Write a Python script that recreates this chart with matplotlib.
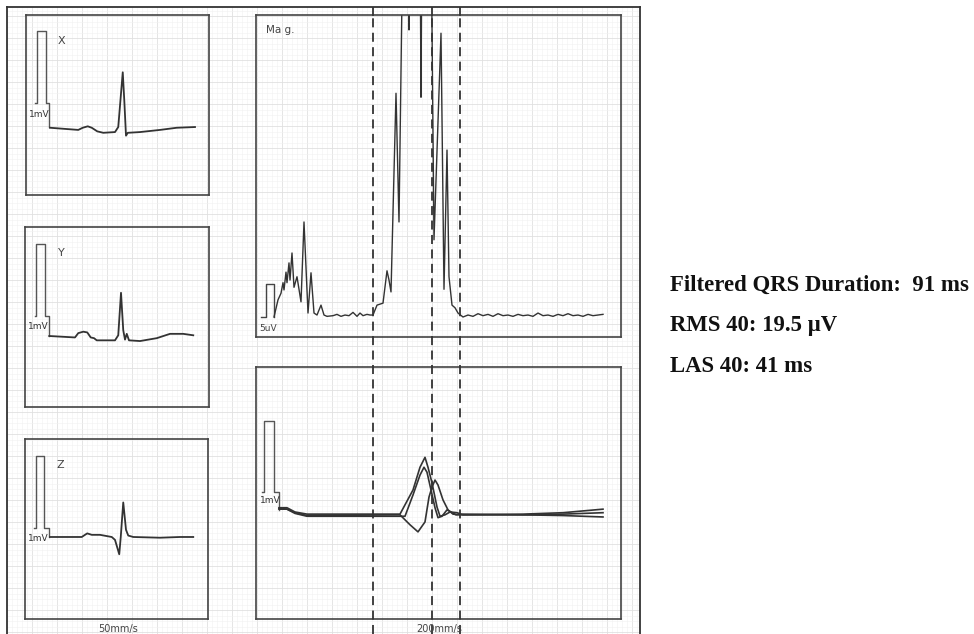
import matplotlib
matplotlib.use('Agg')
import matplotlib.pyplot as plt
import numpy as np

plt.rcParams.update({
    'font.family': ['DejaVu Sans'],
    'axes.linewidth': 1.2,
    'axes.edgecolor': '#444444',
})

W, H = 974, 634
TRACE = '#333333'

# -- Data: 50 mm/s leads (time in ms from panel left, amplitude in mV) --
x_cal_t = [36, 43, 43, 80, 80, 93, 93]
x_cal_v = [0.33, 0.33, 1.33, 1.33, 0.33, 0.33, 0.0]
x_t = [96, 209, 227, 247, 263, 285, 309, 356, 369, 387, 393, 400, 407,
       456, 536, 603, 676]
x_v = [-0.01, -0.04, -0.01, 0.01, -0.01, -0.06, -0.08, -0.07, 0.0, 0.76,
       0.38, -0.12, -0.08, -0.07, -0.04, -0.01, 0.0]

y_cal_t = [40, 44, 44, 80, 80, 96, 96]
y_cal_v = [0.28, 0.28, 1.28, 1.28, 0.28, 0.28, 0.0]
y_t = [97, 200, 213, 233, 249, 263, 276, 287, 360, 373, 384, 393, 400,
       407, 416, 460, 527, 580, 633, 673]
y_v = [0.0, -0.02, 0.04, 0.06, 0.05, -0.02, -0.03, -0.06, -0.06, 0.01,
       0.6, 0.08, -0.05, 0.03, -0.06, -0.07, -0.03, 0.03, 0.03, 0.01]

z_cal_t = [37, 43, 43, 77, 77, 97, 97]
z_cal_v = [0.12, 0.12, 1.12, 1.12, 0.12, 0.12, 0.0]
z_t = [100, 227, 240, 249, 267, 300, 347, 360, 377, 383, 393, 404, 413,
       433, 540, 620, 673]
z_v = [0.0, 0.0, 0.03, 0.05, 0.03, 0.03, 0.0, -0.04, -0.24, 0.0, 0.48,
       0.1, 0.02, 0.0, -0.01, 0.0, 0.0]

# -- Data: filtered vector magnitude, 200 mm/s (ms from QRS onset, uV) --
mag_cal_t = [-112, -107, -107, -99, -99]
mag_cal_v = [0, 0, 5, 5, 0]
mag_t = [-99, -95, -92, -90, -89, -87, -86, -84, -83, -81, -79, -76, -72,
         -69, -65, -62, -59, -56, -52, -49, -46, -40, -36, -32, -28, -24,
         -20, -16, -13, -10, -6, -3, 0, 4, 10, 14, 16, 18, 23, 26, 30, 34,
         36, 38, 47, 48, 49, 58, 61, 68, 71, 74, 76, 79, 82, 85, 90, 95,
         100, 105, 110, 115, 120, 125, 130, 135, 140, 145, 150, 155, 160,
         165, 170, 175, 180, 185, 190, 195, 200, 205, 210, 215, 220, 225, 230]
mag_v = [0, 2.6, 3.6, 5.2, 4.1, 6.8, 5.2, 8.2, 5.6, 9.7, 4.5, 6.1, 2.3,
         14.4, 0.6, 6.7, 0.6, 0.3, 1.8, 0.3, 0.1, 0.2, 0.4, 0.1, 0.3, 0.2,
         0.7, 0.1, 0.6, 0.2, 0.4, 0.3, 0.3, 1.8, 2.1, 7.0, 5.6, 3.8, 33.9,
         14.4, 60, 60, 43.5, 60, 60, 33.3, 60, 60, 11.7, 43.0, 4.2, 25.3,
         6.1, 1.8, 1.4, 0.6, 0.0, 0.3, 0.1, 0.5, 0.2, 0.4, 0.1, 0.5, 0.2,
         0.3, 0.1, 0.4, 0.2, 0.3, 0.1, 0.6, 0.2, 0.3, 0.1, 0.4, 0.2, 0.5,
         0.2, 0.3, 0.1, 0.4, 0.2, 0.3, 0.4]

# -- Data: filtered X, Y, Z leads, 200 mm/s (ms from QRS onset, mV) --
f_cal_t = [-111, -109, -109, -99, -99, -94, -94]
f_cal_v = [0.28, 0.28, 1.28, 1.28, 0.28, 0.28, 0.03]
fx_t = [-94, -86, -78, -66, 27, 40, 47, 52, 55, 59, 64, 67, 72, 77, 84,
        90, 150, 190, 230]
fx_v = [0.06, 0.06, 0.0, -0.03, -0.03, 0.31, 0.63, 0.77, 0.63, 0.41, 0.07,
        -0.06, -0.04, 0.0, -0.01, -0.04, -0.03, -0.01, 0.04]
fy_t = [-94, -86, -78, -66, 32, 40, 47, 51, 54, 58, 62, 65, 69, 74, 78,
        83, 90, 150, 190, 230]
fy_v = [0.05, 0.04, -0.02, -0.06, -0.06, 0.24, 0.52, 0.63, 0.56, 0.31,
        0.06, -0.08, -0.06, 0.03, 0.0, -0.04, -0.03, -0.04, -0.03, -0.01]
fz_t = [-94, -86, -78, -66, 27, 37, 45, 52, 56, 59, 62, 65, 70, 75, 80,
        87, 150, 190, 230]
fz_v = [0.04, 0.04, -0.01, -0.05, -0.04, -0.18, -0.28, -0.14, 0.21, 0.35,
        0.45, 0.38, 0.17, 0.03, -0.03, -0.04, -0.04, -0.05, -0.07]

# dashed markers: QRS onset, LAS40 start, QRS offset (ms)
markers = [0, 59, 87]

results = ['Filtered QRS Duration:  91 ms', 'RMS 40: 19.5 \u00b5V',
           'LAS 40: 41 ms']


def px_axes(fig, x0, y0, x1, y1, **kw):
    return fig.add_axes([x0 / W, 1 - y1 / H, (x1 - x0) / W, (y1 - y0) / H], **kw)


def style_panel(ax):
    ax.set_facecolor('none')
    ax.set_xticks([])
    ax.set_yticks([])
    for s in ax.spines.values():
        s.set_color('#444444')
        s.set_linewidth(1.2)


fig = plt.figure(figsize=(W / 100, H / 100), dpi=100)

# paper with faint grid
bg = px_axes(fig, 7, 7, 640, 640)
bg.set_xlim(0, 633)
bg.set_ylim(0, 633)
bg.set_xticks(np.arange(0, 634, 25))
bg.set_yticks(np.arange(8, 634, 22))
bg.set_xticks(np.arange(0, 634, 5), minor=True)
bg.set_yticks(np.arange(8, 634, 5.5), minor=True)
bg.grid(which='major', color='#e0e0e0', linewidth=0.6)
bg.grid(which='minor', color='#f1f1f1', linewidth=0.4)
bg.tick_params(which='both', length=0, labelbottom=False, labelleft=False)
bg.spines['bottom'].set_visible(False)
for s in ['top', 'left', 'right']:
    bg.spines[s].set_color('#333333')
    bg.spines[s].set_linewidth(1.3)

# 50 mm/s leads
leads = [
    ('X', (26, 15, 209, 195), (-0.944, 1.556), x_cal_t, x_cal_v, x_t, x_v),
    ('Y', (25, 227, 209, 407), (-0.986, 1.514), y_cal_t, y_cal_v, y_t, y_v),
    ('Z', (25, 439, 208, 619), (-1.139, 1.361), z_cal_t, z_cal_v, z_t, z_v),
]
for name, box, ylim, ct, cv, tt, vv in leads:
    ax = px_axes(fig, *box)
    style_panel(ax)
    ax.plot(ct, cv, color='#555555', lw=1.0)
    ax.plot(tt, vv, color=TRACE, lw=1.3)
    ax.set_xlim(0, (box[2] - box[0]) * 4)
    ax.set_ylim(*ylim)
    ax.text(0.195, 0.853, name, transform=ax.transAxes, ha='center',
            va='center', fontsize=8, color='#444444')
    ax.text(0.07, 0.447, '1mV', transform=ax.transAxes, ha='center',
            va='center', fontsize=6.5, color='#333333')

# magnitude panel
am = px_axes(fig, 256, 15, 621, 337)
style_panel(am)
am.plot(mag_cal_t, mag_cal_v, color='#444444', lw=1.0)
am.plot(mag_t, mag_v, color=TRACE, lw=1.0)
am.set_xlim(-117, 248)
am.set_ylim(-3.03, 45.76)
am.text(0.027, 0.953, 'Ma g.', transform=am.transAxes, ha='left',
        va='center', fontsize=7.5, color='#444444')
am.text(0.008, 0.025, '5uV', transform=am.transAxes, ha='left',
        va='center', fontsize=6.5, color='#444444')

# filtered leads panel
af = px_axes(fig, 256, 367, 621, 619)
style_panel(af)
af.plot(f_cal_t, f_cal_v, color='#555555', lw=1.0)
for tt, vv in [(fx_t, fx_v), (fy_t, fy_v), (fz_t, fz_v)]:
    af.plot(tt, vv, color=TRACE, lw=1.2)
af.set_xlim(-117, 248)
af.set_ylim(-1.507, 2.042)
af.text(0.012, 0.472, '1mV', transform=af.transAxes, ha='left',
        va='center', fontsize=6.5, color='#333333')

# dashed boundary lines spanning both panels
ov = px_axes(fig, 256, 7, 621, 634)
ov.set_xlim(-117, 248)
ov.set_ylim(0, 1)
ov.axis('off')
for m in markers:
    ov.axvline(m, ymin=0, ymax=1 - 8 / 627, color='#333333', lw=1.3,
               linestyle=(0, (5, 3)))
    ov.axvline(m, ymin=1 - 8 / 627, ymax=1, color='#333333', lw=1.3)

fig.text(118 / W, 1 - 629 / H, '50mm/s', ha='center', va='center',
         fontsize=7, color='#444444')
fig.text(439 / W, 1 - 629 / H, '200mm/s', ha='center', va='center',
         fontsize=7, color='#444444')

for i, s in enumerate(results):
    fig.text(670 / W, 1 - (291 + 40.5 * i) / H, s, ha='left', va='baseline',
             fontsize=16.4, fontweight='bold', family=['Liberation Serif'],
             color='#111111')

fig.savefig('out.png', dpi=100)
